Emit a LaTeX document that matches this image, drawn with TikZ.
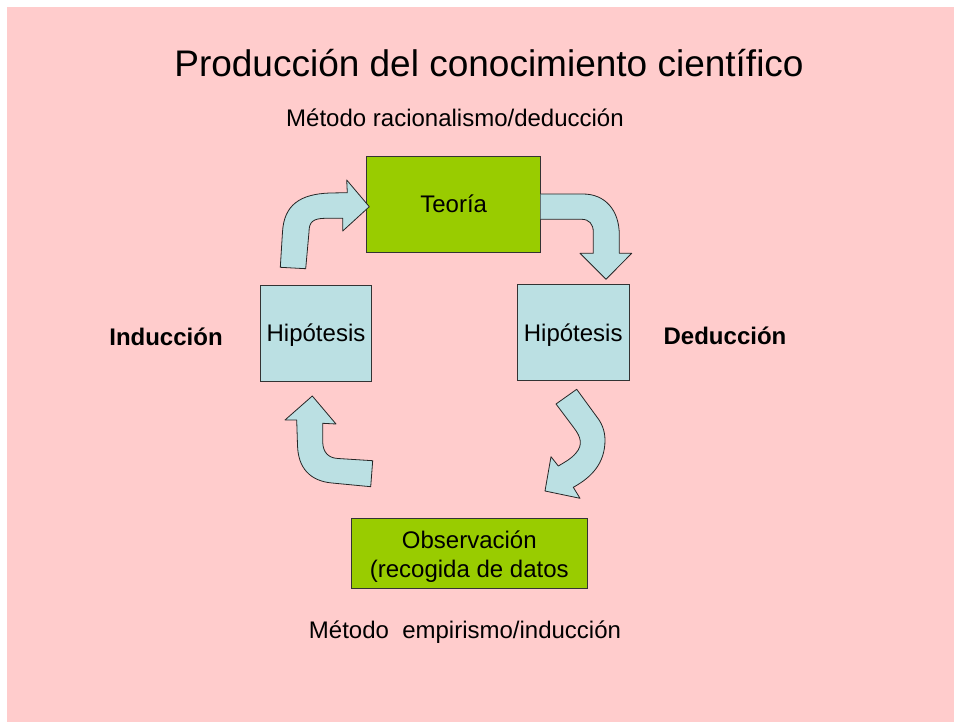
\documentclass[tikz,border=0pt]{standalone}
\usepackage{fontspec}
\setmainfont{Liberation Sans}
\definecolor{fondo}{RGB}{255,204,204}
\definecolor{verde}{RGB}{153,204,0}
\definecolor{celeste}{RGB}{187,224,227}
\begin{document}
\begin{tikzpicture}[x=1pt, y=-1pt,
  caja/.style={draw=black!80, line width=0.8pt, inner sep=0pt, align=center, font=\fontsize{24}{29}\selectfont},
  flecha/.style={fill=celeste, draw=black!85, line width=0.8pt, line join=round},
  texto/.style={inner sep=0pt, font=\fontsize{24}{29}\selectfont}]
\useasboundingbox (0,0) rectangle (954,722);
\fill[fondo] (7,7) rectangle (954,722); % fondo

\node[inner sep=0pt, font=\fontsize{37}{44}\selectfont] (titulo) at (489,63) {Producción del conocimiento científico};
\node[texto] (deductivo) at (455,118) {Método racionalismo/deducción};
\node[texto] (inductivo) at (465,632) {Método\ \ empirismo/inducción};

% cajas
\node[caja, fill=verde, minimum width=174pt, minimum height=96pt, text height=22.3pt, text depth=5pt] (teoria) at (453.7,204) {Teoría};
\node[caja, fill=celeste, minimum width=110.6pt, minimum height=96pt, text height=22.3pt, text depth=5pt] (hipizq) at (316,333) {Hipótesis};
\node[caja, fill=celeste, minimum width=111.7pt, minimum height=96.3pt, text height=22.3pt, text depth=5pt] (hipder) at (573.2,332.5) {Hipótesis};
\node[caja, fill=verde, minimum width=235.3pt, minimum height=70pt] (obs) at (469.3,553) {};
\node[texto, align=center] (obstexto) at ([yshift=-4pt]obs.center) {Observación\\(recogida de datos};

\node[texto, font=\fontsize{24}{29}\selectfont\bfseries] (induccion) at (166,337) {Inducción};
\node[texto, font=\fontsize{24}{29}\selectfont\bfseries] (deduccion) at (725,336) {Deducción};

% flechas curvas
\draw[flecha] (280.3,267.3) -- (282.5,232) .. controls (284,205) and (300,194) .. (330,193)
  -- (347.3,192.7) -- (346.7,180) -- (369.3,206.7) -- (342.7,231) -- (342.7,218.3) -- (325,218.3)
  .. controls (313,218.5) and (309,222) .. (309,232) -- (305.7,268.7) -- cycle; % hipotesis -> teoria
\draw[flecha] (540.7,194) -- (583,194) .. controls (605,194) and (619.3,210) .. (619.3,235)
  -- (619.3,253.3) -- (631.7,253.3) -- (606,279.3) -- (580,253.3) -- (593.3,253.3) -- (593.3,232)
  .. controls (593.3,224) and (589,219.3) .. (581.7,219.3) -- (540.7,219.3); % teoria -> hipotesis
\draw[flecha] (556,404) -- (574,428) .. controls (581,437) and (583,445) .. (576,453)
  .. controls (571,459) and (565,462) .. (558.3,466) -- (551,456.7) -- (545,491) -- (580,498.3)
  -- (573.3,487.3) .. controls (592,477) and (605,463) .. (605,440) .. controls (605,430) and (601,422) .. (596.7,416.7)
  -- (576.7,389.3) -- cycle; % hipotesis -> observacion
\draw[flecha] (322.7,423.3) -- (322.7,442) .. controls (323,452) and (328,458) .. (338,458.5)
  -- (372.7,460.7) -- (370.7,486.7) -- (332,483) .. controls (310,481) and (298,468) .. (297.5,445)
  -- (296.7,420) -- (285,420) -- (312.3,396) -- (336,424) -- cycle; % observacion -> hipotesis
\end{tikzpicture}
\end{document}
